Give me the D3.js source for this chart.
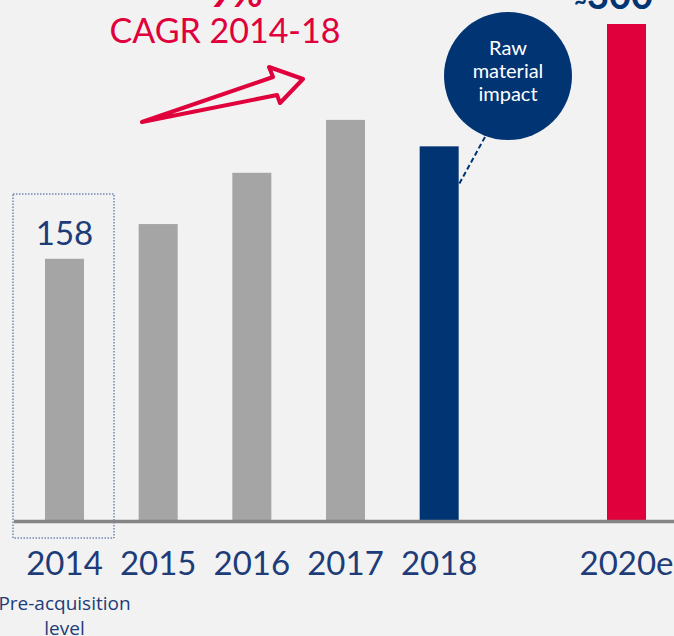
<!DOCTYPE html>
<html>
<head>
<meta charset="utf-8">
<script src="https://cdn.jsdelivr.net/npm/d3@7"></script>
<style>
  body { margin: 0; background: #f2f2f2; overflow: hidden; }
  svg { display: block; }
</style>
</head>
<body>
<svg id="chart"></svg>
<script>
// datos
var years = [2014, 2015, 2016, 2017, 2018, 2020];
var yearLabels = ["2014", "2015", "2016", "2017", "2018", "2020e"];
var values = [158, 179, 210, 242, 226, 300];
var barColours = ["#a5a5a5", "#a5a5a5", "#a5a5a5", "#a5a5a5", "#003473", "#e0003c"];
var bubbleLines = ["Raw", "material", "impact"];

var width = 674,
    height = 636,
    baseY = 520,
    barW = 39;

var navy = "#1d3c78",
    red = "#e0003c";

var svg = d3.select("#chart")
  .attr("width", width)
  .attr("height", height);

// escalas
var x = d3.scaleLinear()
  .domain([2014, 2020])
  .range([64.5, 626.5]);

var y = d3.scaleLinear()
  .domain([0, 300])
  .range([baseY, 24]);

// caja punteada 2014
svg.append("rect")
  .attr("x", x(2014) - 51.5)
  .attr("y", 194)
  .attr("width", 101)
  .attr("height", 344)
  .attr("fill", "none")
  .attr("stroke", "#2f5597")
  .attr("stroke-width", 1)
  .attr("stroke-dasharray", "1.5,1.5");

// barras
svg.selectAll(".bar")
  .data(values)
  .enter().append("rect")
  .attr("class", "bar")
  .attr("x", function(d, i) { return x(years[i]) - barW / 2; })
  .attr("y", function(d) { return y(d); })
  .attr("width", barW)
  .attr("height", function(d) { return baseY - y(d); })
  .attr("fill", function(d, i) { return barColours[i]; });

// eje
svg.append("line")
  .attr("x1", 14).attr("x2", width)
  .attr("y1", baseY + 1.5).attr("y2", baseY + 1.5)
  .attr("stroke", "#858585")
  .attr("stroke-width", 3.5);

// etiquetas de años
svg.selectAll(".year")
  .data(yearLabels)
  .enter().append("text")
  .attr("class", "year")
  .attr("x", function(d, i) { return x(years[i]); })
  .attr("y", 575)
  .attr("text-anchor", "middle")
  .attr("font-family", "Lato, sans-serif")
  .attr("font-size", 33)
  .attr("fill", navy)
  .text(function(d) { return d; });

// valor 2014
svg.append("text")
  .attr("x", x(2014))
  .attr("y", 245)
  .attr("text-anchor", "middle")
  .attr("font-family", "Lato, sans-serif")
  .attr("font-size", 33)
  .attr("fill", navy)
  .text(values[0]);

// valor 2020e (cortado arriba)
var topLabel = svg.append("text")
  .attr("x", 653)
  .attr("y", 9)
  .attr("text-anchor", "end")
  .attr("font-family", "Lato, sans-serif")
  .attr("font-weight", "bold")
  .attr("font-size", 38)
  .attr("fill", "#003473");
topLabel.append("tspan").attr("font-size", 22).text("~");
topLabel.append("tspan").text(values[5]);

// Pre-acquisition
svg.append("text")
  .attr("x", x(2014))
  .attr("y", 610)
  .attr("text-anchor", "middle")
  .attr("font-family", "'Open Sans', sans-serif")
  .attr("font-size", 19)
  .attr("fill", navy)
  .selectAll("tspan")
  .data(["Pre-acquisition", "level"])
  .enter().append("tspan")
  .attr("x", x(2014))
  .attr("dy", function(d, i) { return i ? 25 : 0; })
  .text(function(d) { return d; });

// CAGR
svg.append("text")
  .attr("x", 225)
  .attr("y", 7)
  .attr("text-anchor", "middle")
  .attr("font-family", "Lato, sans-serif")
  .attr("font-weight", "bold")
  .attr("font-size", 38)
  .attr("fill", red)
  .text("~9%");

svg.append("text")
  .attr("x", 225)
  .attr("y", 43)
  .attr("text-anchor", "middle")
  .attr("font-family", "Lato, sans-serif")
  .attr("font-size", 34)
  .attr("fill", red)
  .text("CAGR 2014-18");

// flecha
svg.append("polygon")
  .attr("points", "142,122 273,77 269,67 303,79 280,103 277,95")
  .attr("fill", "none")
  .attr("stroke", red)
  .attr("stroke-width", 4)
  .attr("stroke-linejoin", "round");

// burbuja
svg.append("line")
  .attr("x1", 485).attr("y1", 137)
  .attr("x2", 458).attr("y2", 186)
  .attr("stroke", "#003473")
  .attr("stroke-width", 2)
  .attr("stroke-dasharray", "5,3");

svg.append("circle")
  .attr("cx", 508)
  .attr("cy", 76)
  .attr("r", 64)
  .attr("fill", "#003473");

svg.append("text")
  .attr("text-anchor", "middle")
  .attr("font-family", "Lato, sans-serif")
  .attr("font-size", 20)
  .attr("fill", "#fff")
  .selectAll("tspan")
  .data(bubbleLines)
  .enter().append("tspan")
  .attr("x", 508)
  .attr("y", function(d, i) { return 55 + i * 23; })
  .text(function(d) { return d; });
</script>
</body>
</html>
